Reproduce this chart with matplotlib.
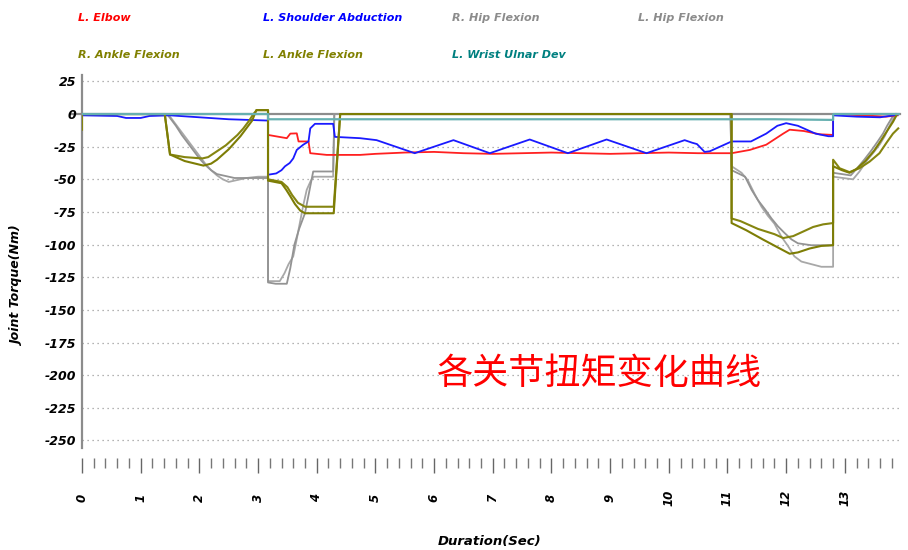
import matplotlib
matplotlib.use("Agg")
import matplotlib.pyplot as plt
from matplotlib.ticker import MultipleLocator

# ---- series data: time (s) and joint torque (Nm) ----
t_elbow = [0, 3.17, 3.17, 3.49, 3.55, 3.66, 3.69, 3.86, 3.89, 4.17, 4.74, 5.0, 5.5, 6.0, 6.5,
           7.0, 7.5, 8.0, 8.5, 9.0, 9.5, 10.0, 10.5, 11.07, 11.38, 11.66, 11.95, 12.06, 12.3,
           12.57, 12.80, 12.80, 13.3, 13.7, 13.9]
v_elbow = [0, 0, -16, -18.5, -15, -14.8, -21, -21, -30, -31.3, -31.3, -30.5, -29.5, -29, -30,
           -30.5, -30, -29.5, -30, -30.5, -30, -29.5, -30, -30, -27.5, -23.5, -15, -12, -13,
           -15.5, -16, 0, -1, -2, -1]

t_shoulder = [0, 0.6, 0.75, 1.0, 1.15, 1.5, 2.0, 2.5, 3.17, 3.17, 3.31, 3.40, 3.46, 3.54, 3.60,
              3.66, 3.77, 3.86, 3.89, 3.97, 4.28, 4.31, 4.74, 5.02, 5.67, 6.33, 6.95, 7.63, 8.28,
              8.94, 9.62, 10.27, 10.40, 10.48, 10.61, 10.70, 11.07, 11.40, 11.66, 11.85, 12.0,
              12.2, 12.5, 12.72, 12.80, 12.80, 13.2, 13.6, 13.9]
v_shoulder = [-1, -1.5, -3, -3, -1.5, -1, -2.5, -4, -5, -46.5, -45.5, -43, -40, -37.5, -34,
              -27.5, -23.5, -21, -11, -7.5, -7.5, -17.5, -18.5, -20, -30, -20, -30, -19.5, -30,
              -19.5, -30, -20, -22, -23, -29, -28.5, -21, -21, -15, -9, -7, -9, -15, -17, -17,
              -1, -2, -2.5, -0.5]

t_rhip = [0, 1.45, 1.5, 1.6, 1.7, 1.8, 1.9, 2.0, 2.1, 2.2, 2.3, 2.4, 2.5, 2.6, 2.7, 2.8, 2.9, 3.0,
          3.17, 3.17, 3.37, 3.45, 3.52, 3.60, 3.65, 3.71, 3.77, 3.83, 3.90, 3.95, 4.28, 4.30,
          11.05, 11.07, 11.24, 11.35, 11.46, 11.58, 11.69, 11.80, 11.92, 12.03, 12.14, 12.26,
          12.43, 12.60, 12.80, 12.80,
          13.14, 13.25, 13.37, 13.48, 13.60, 13.68, 13.75, 13.82, 13.88]
v_rhip = [0, 0, -2, -8, -14, -20, -26, -32, -38, -43, -47, -50, -52, -51, -50, -49, -48.5, -48,
          -48, -128, -128, -122, -115, -109, -98, -84, -70, -58, -51, -48, -48, 0,
          0, -40, -45, -51, -61, -71, -78, -84, -94, -101, -109, -113,
          -115, -117, -117, -48,
          -50, -44, -36, -30, -23, -17, -10, -4, 0]

t_lhip = [0, 1.45, 1.5, 1.6, 1.7, 1.8, 1.9, 2.0, 2.1, 2.2, 2.3, 2.4, 2.5, 2.6,
          3.17, 3.17, 3.30, 3.49, 3.55, 3.62, 3.70, 3.80, 3.87, 3.94, 4.28, 4.30,
          11.05, 11.07, 11.30, 11.41, 11.52, 11.64, 11.75, 11.86, 11.97, 12.09, 12.20, 12.43,
          12.80, 12.80,
          13.10, 13.22, 13.33, 13.45, 13.56, 13.65, 13.72, 13.80, 13.86]
v_lhip = [0, 0, -3, -9, -16, -22, -28, -34, -39, -43, -46, -47, -48, -49,
          -49, -129, -130, -130, -118, -100, -88, -76, -60, -44, -44, 0,
          0, -43, -48, -58, -66, -73, -80, -86, -91, -96, -99, -100.5,
          -100.5, -45,
          -47, -41, -35, -28, -21, -15, -9, -3, 0]

t_rankle = [0, 0, 1.41, 1.50, 1.75, 2.05, 2.15, 2.25, 2.35, 2.45, 2.55, 2.65, 2.75, 2.85,
            2.92, 2.98,
            3.17, 3.17, 3.40, 3.50, 3.58, 3.68, 3.80, 4.29, 4.40,
            11.07, 11.07, 11.22, 11.37, 11.52, 11.66, 11.80, 11.95, 12.12, 12.29, 12.46, 12.63,
            12.80, 12.80,
            12.91, 13.08, 13.25, 13.42, 13.59, 13.71, 13.82, 13.91]
v_rankle = [-12, 0, 0, -31, -33, -34, -33, -30, -27, -24, -20, -16, -11, -5,
            0, 3,
            3, -50, -52, -56, -62, -68, -71, -71, 0,
            0, -80, -82, -85, -88, -90, -92, -95, -93.5, -90, -86.5, -84.5,
            -83.5, -35,
            -41.5, -44.5, -41.5, -36.5, -30, -22, -15, -11]

t_lankle = [0, 1.41, 1.50, 1.75, 2.07, 2.20, 2.30, 2.40, 2.50, 2.60, 2.70, 2.80, 2.90, 2.97,
            3.17, 3.17, 3.40, 3.48, 3.55, 3.63, 3.72, 3.80, 4.29, 4.40,
            11.07, 11.07, 11.32, 11.60, 11.85, 12.06, 12.20, 12.40, 12.60, 12.80, 12.80,
            12.95, 13.08, 13.20, 13.35, 13.50, 13.62, 13.72, 13.82, 13.88]
v_lankle = [0, 0, -31, -36, -39.5, -38, -35, -31, -27, -22, -17, -11, -5, 3,
            3, -51, -53, -58, -63, -69, -74, -76, -76, 0,
            0, -83.5, -89, -96, -102, -107, -106, -103, -101, -100.5, -40,
            -43, -45, -42, -36, -28, -20, -13, -6, -1]

t_wrist = [0, 3.17, 3.17, 11.8, 12.8, 12.8, 13.92]
v_wrist = [0, 0, -4, -4, -4.5, 0, 0]

series_names = ["L. Elbow", "L. Shoulder Abduction", "R. Hip Flexion", "L. Hip Flexion",
                "R. Ankle Flexion", "L. Ankle Flexion", "L. Wrist Ulnar Dev"]
label_colors = ["#ff0000", "#0000ff", "#8c8c8c", "#8c8c8c", "#808000", "#808000", "#008080"]

y_ticks = list(range(-250, 26, 25))
x_ticks = list(range(0, 14))

# ---- figure ----
W, H = 908, 550
fig = plt.figure(figsize=(W / 100, H / 100), dpi=100)
ax = fig.add_axes([82 / W, 1 - 448 / H, (900 - 82) / W, (448 - 75) / H])
ax.set_xlim(0, 13.94)
ax.set_ylim(-255.8, 29.9)

bi = dict(fontweight="bold", fontstyle="italic")

# dotted horizontal grid
for yv in y_ticks:
    if yv != 0:
        ax.axhline(yv, color="#9a9a9a", lw=0.9, ls=(0, (1, 3)), zorder=0)
# zero reference line, running slightly past the y axis
ax.axhline(0, xmin=-12 / 818, xmax=1, color="#8c8c8c", lw=1.6, clip_on=False, zorder=1)

lw = 1.3
ax.plot(t_rhip, v_rhip, color="#a8a8a8", lw=lw, zorder=2)
ax.plot(t_lhip, v_lhip, color="#939393", lw=lw, zorder=2)
ax.plot(t_elbow, v_elbow, color="#ff2020", lw=lw, zorder=3)
ax.plot(t_shoulder, v_shoulder, color="#1a1aff", lw=lw, zorder=3)
ax.plot(t_rankle, v_rankle, color="#858510", lw=lw + 0.2, zorder=4)
ax.plot(t_lankle, v_lankle, color="#7d7d05", lw=lw + 0.2, zorder=4)
ax.plot(t_wrist, v_wrist, color="#66b0b0", lw=lw + 0.3, zorder=4)

# spines
for s in ("top", "right"):
    ax.spines[s].set_visible(False)
ax.spines["left"].set_color("#8c8c8c")
ax.spines["left"].set_linewidth(1.6)
ax.spines["bottom"].set_position(("outward", 7))
ax.spines["bottom"].set_visible(False)

# y axis
ax.set_yticks(y_ticks)
ax.set_yticklabels([str(v) for v in y_ticks], fontsize=9, **bi)
ax.tick_params(axis="y", length=0, pad=4)

# x axis: detached tick row with rotated labels
ax.set_xticks(x_ticks)
ax.xaxis.set_minor_locator(MultipleLocator(0.2))
ax.set_xticklabels([str(v) for v in x_ticks], fontsize=8.5, rotation=90, va="center", **bi)
ax.tick_params(axis="x", which="major", length=11, width=1, color="#666666", pad=18)
ax.tick_params(axis="x", which="minor", length=7, width=1, color="#777777")

# legend entries as coloured text
leg_pos = [(78, 18), (263, 18), (452, 18), (638, 18), (78, 55), (263, 55), (452, 55)]
for name, col, (px, py) in zip(series_names, label_colors, leg_pos):
    fig.text(px / W, 1 - py / H, name, color=col, fontsize=8, ha="left", va="center", **bi)

fig.text(18 / W, 1 - 286 / H, "Joint Torque(Nm)", rotation=90, ha="center", va="center",
         fontsize=9, **bi)
fig.text(490 / W, 1 - 541 / H, "Duration(Sec)", ha="center", va="center", fontsize=9.5, **bi)

fig.text(600 / W, 1 - 374 / H, "各关节扭矩变化曲线", color="#ff0000", fontsize=26,
         ha="center", va="center", family=["Noto Sans CJK SC", "DejaVu Sans"])

fig.savefig("out.png", dpi=100)
